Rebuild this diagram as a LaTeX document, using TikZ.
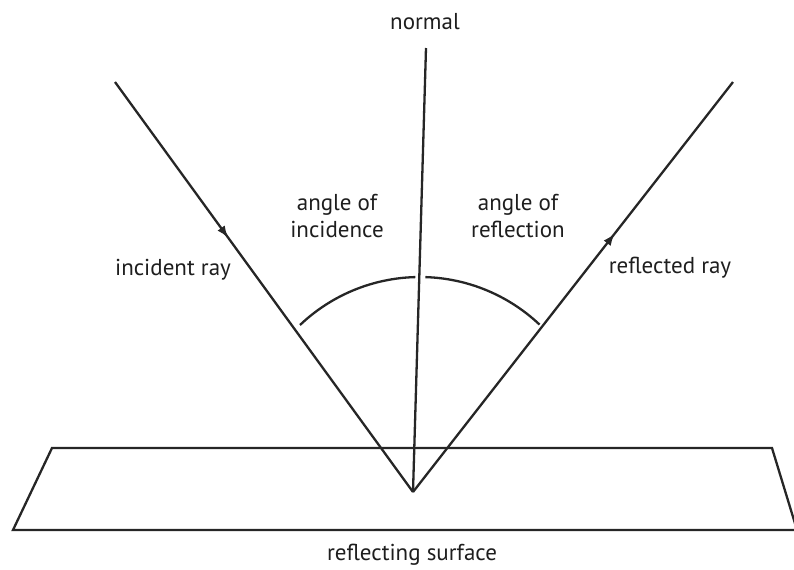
\documentclass[tikz,border=0pt]{standalone}
\usepackage{fontspec}
\setmainfont{PT Sans}
\usetikzlibrary{arrows.meta,decorations.markings}
\begin{document}
\begin{tikzpicture}[x=0.5pt, y=-0.5pt,
    every node/.style={font=\fontsize{11.5}{13.5}\selectfont, text=raytext, inner sep=0pt},
    ray/.style={draw=rayline, line width=1.15pt},
    raymark/.style={postaction={decorate}, decoration={markings,
        mark=at position #1 with {\arrow[rayline]{Latex[length=6pt,width=4.5pt]}}}}]
    \definecolor{rayline}{RGB}{38,38,38}
    \definecolor{raytext}{RGB}{30,30,30}

    \useasboundingbox (0,0) rectangle (794,569);

    % Points de la figure.
    \coordinate (P) at (413,492);
    \coordinate (inc) at (115,82);
    \coordinate (refl) at (733,82);
    \coordinate (ntop) at (426,48);
    \coordinate (ac) at (420,451);

    % Surface réfléchissante vue en perspective.
    \draw[ray] (52,448) -- (772,448) -- (797,530) -- (13,530) -- cycle;

    % Rayons et normale.
    \draw[ray, raymark=0.38] (inc) -- (P);
    \draw[ray, raymark=0.63] (P) -- (refl);
    \draw[ray] (P) -- (ntop);

    % Arcs des angles.
    \draw[ray] ([shift={(133.6:87pt)}]ac) arc[start angle=133.6, end angle=91.5, radius=87pt];
    \draw[ray] ([shift={(88.2:87pt)}]ac) arc[start angle=88.2, end angle=46.6, radius=87pt];

    % Étiquettes.
    \node (normallbl) at (425,22) {normal};
    \node[align=center] (anginc) at (337,216) {angle of\\incidence};
    \node[align=center] (angrefl) at (518,216) {angle of\\reflection};
    \node (inclbl) at (173,270) {incident ray};
    \node (refllbl) at (670,268) {reflected ray};
    \node (surflbl) at (412,555) {reflecting surface};
\end{tikzpicture}
\end{document}
